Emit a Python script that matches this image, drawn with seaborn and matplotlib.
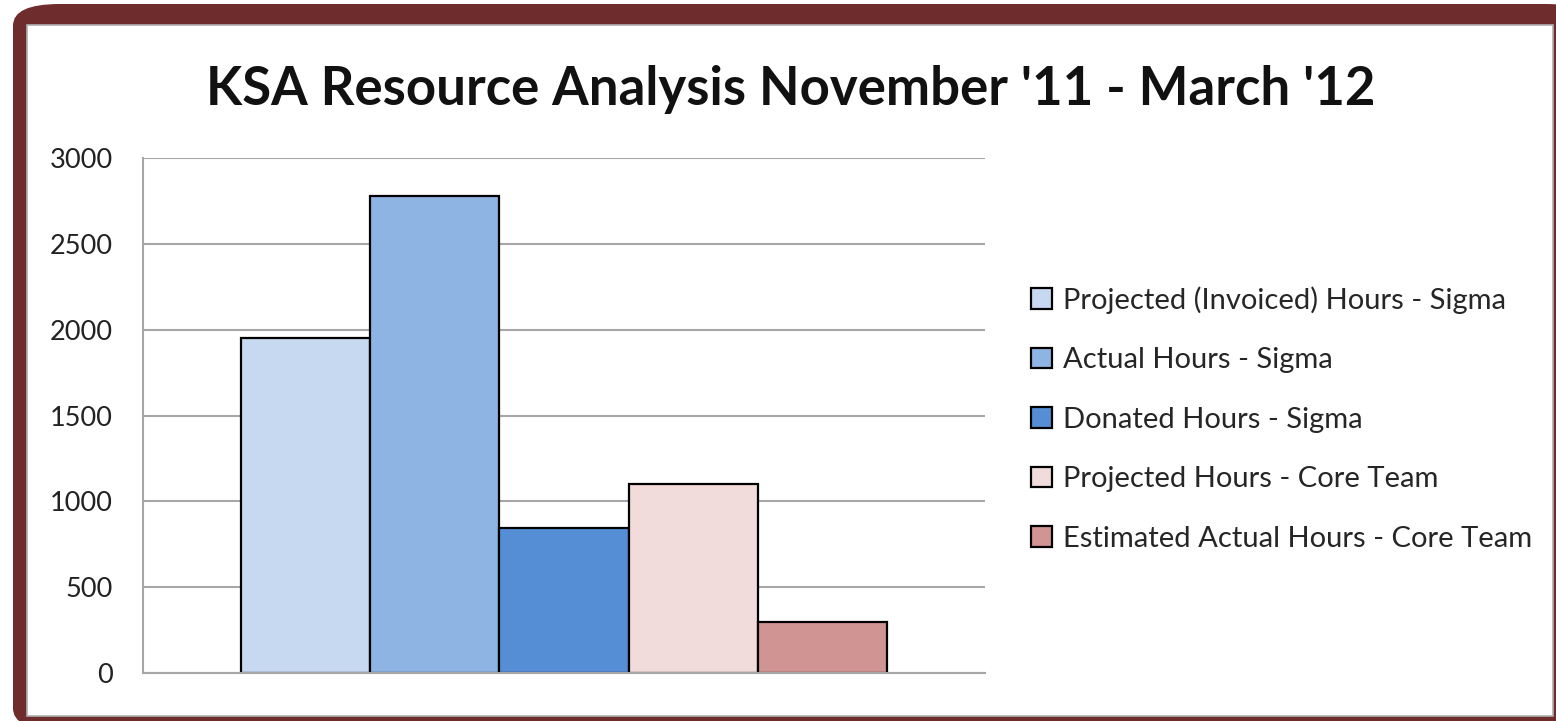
import pandas as pd
import seaborn as sns
import matplotlib.pyplot as plt
from matplotlib.patches import FancyBboxPatch, Rectangle

# chart data
series = ['Projected (Invoiced) Hours - Sigma', 'Actual Hours - Sigma', 'Donated Hours - Sigma',
          'Projected Hours - Core Team', 'Estimated Actual Hours - Core Team']
hours = [1950, 2780, 845, 1100, 300]
bar_colors = ['#C6D9F1', '#8EB4E3', '#558ED5', '#F2DCDB', '#D09493']
y_ticks = [0, 500, 1000, 1500, 2000, 2500, 3000]

df = pd.DataFrame({'period': ['KSA'] * len(series), 'series': series, 'hours': hours})

sns.set_theme(style='white')
plt.rcParams['font.family'] = ['Lato', 'DejaVu Sans']

W, H = 1556, 721
fig = plt.figure(figsize=(W / 100, H / 100), dpi=100)

# picture frame
frame = FancyBboxPatch((13 / W, 1 - 730 / H), 1580 / W, 726 / H,
                       boxstyle='round,pad=0,rounding_size=0.03',
                       transform=fig.transFigure, facecolor='#6E2C2C', edgecolor='none', zorder=0)
fig.patches.append(frame)
inner = Rectangle((27 / W, 1 - 716 / H), 1526 / W, 691 / H, transform=fig.transFigure,
                  facecolor='white', edgecolor='#B0B0B0', linewidth=1.2, zorder=1)
fig.patches.append(inner)

ax = fig.add_axes([143 / W, 1 - 673 / H, 842 / W, 515 / H])
ax.set_zorder(2)
sns.barplot(data=df, x='period', y='hours', hue='series', palette=bar_colors, saturation=1,
            width=0.767, edgecolor='black', linewidth=1.6, ax=ax, legend=True)

ax.set_ylim(0, 3000)
ax.set_yticks(y_ticks)
ax.set_xticks([])
ax.set_xlabel('')
ax.set_ylabel('')
ax.yaxis.grid(True, color='#A6A6A6', linewidth=1.5)
ax.set_axisbelow(True)
ax.tick_params(axis='y', length=0, pad=22, labelsize=19.5, labelcolor='#222222')
for side in ['top', 'right']:
    ax.spines[side].set_visible(False)
for side in ['left', 'bottom']:
    ax.spines[side].set_color('#A6A6A6')
    ax.spines[side].set_linewidth(1.5)
ax.patch.set_alpha(0)

fig.text(791 / W, 1 - 105 / H, "KSA Resource Analysis November '11 - March '12",
         ha='center', va='baseline', fontsize=38, fontweight='bold', color='#111111')

handles, labels = ax.get_legend_handles_labels()
ax.legend(handles, labels, loc='center left', bbox_to_anchor=(1005 / W, 1 - 419 / H),
          bbox_transform=fig.transFigure, frameon=False, fontsize=21,
          handlelength=0.7, handleheight=0.7, handletextpad=0.4, labelspacing=1.15)

fig.savefig('out.png', dpi=100)
